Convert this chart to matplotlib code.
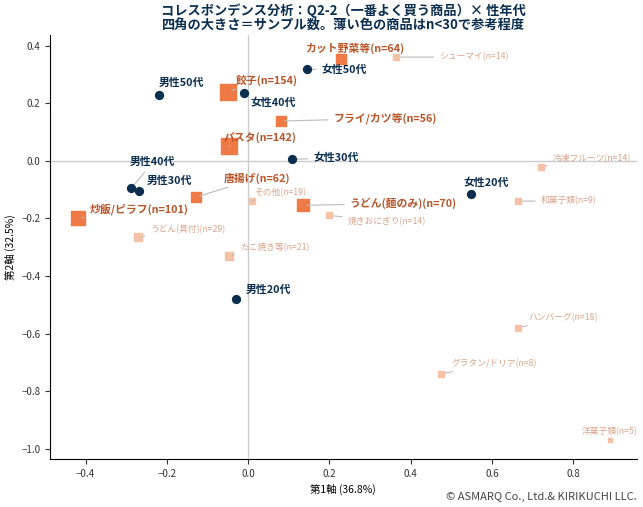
import matplotlib
matplotlib.use("Agg")
import matplotlib.pyplot as plt

plt.rcParams['font.family'] = ['Noto Sans CJK JP', 'DejaVu Sans']

seg_names = ["男性50代","女性50代","女性40代","女性30代","男性40代","男性30代","女性20代","男性20代"]
seg_x = [-0.22, 0.144, -0.01, 0.107, -0.287, -0.268, 0.548, -0.029]
seg_y = [0.23, 0.318, 0.235, 0.005, -0.095, -0.105, -0.117, -0.48]
seg_lx = [-0.22, 0.18, 0.005, 0.16, -0.29, -0.25, 0.53, -0.007]
seg_ly = [0.27, 0.315, 0.2, 0.01, -0.005, -0.07, -0.075, -0.45]

prod_names = ["カット野菜等","餃子","フライ/カツ等","パスタ","唐揚げ","うどん(麺のみ)","炒飯/ピラフ",
              "シューマイ","冷凍フルーツ","和菓子類","その他","焼きおにぎり","うどん(具付)","たこ焼き等",
              "ハンバーグ","グラタン/ドリア","洋菓子類"]
prod_n = [64,154,56,142,62,70,101,14,14,9,19,14,29,21,18,8,5]
prod_x = [0.229,-0.05,0.08,-0.047,-0.129,0.134,-0.419,0.365,0.722,0.665,0.01,0.2,-0.27,-0.048,0.665,0.475,0.89]
prod_y = [0.355,0.24,0.138,0.05,-0.127,-0.155,-0.2,0.36,-0.02,-0.14,-0.14,-0.19,-0.265,-0.33,-0.58,-0.74,-0.97]
prod_lx = [0.14,-0.03,0.21,-0.06,-0.06,0.25,-0.39,0.47,0.75,0.72,0.015,0.245,-0.24,-0.02,0.69,0.5,0.82]
prod_ly = [0.39,0.28,0.147,0.08,-0.06,-0.148,-0.17,0.36,0.007,-0.14,-0.11,-0.21,-0.24,-0.3,-0.545,-0.705,-0.94]

NAVY = "#0b2e4f"
fig, ax = plt.subplots(figsize=(6.43, 5.07), dpi=100)
fig.subplots_adjust(left=0.078, right=0.99, top=0.93, bottom=0.095)

ax.axhline(0, color="#cccccc", lw=1, zorder=0)
ax.axvline(0, color="#cccccc", lw=1, zorder=0)

for i, nm in enumerate(prod_names):
    n = prod_n[i]
    big = n >= 30
    mc = "#f07a45" if big else "#f5c2a8"
    tc = "#b8552a" if big else "#d9a58c"
    ax.scatter(prod_x[i], prod_y[i], marker="s", s=n*0.85+8, color=mc, zorder=3)
    ax.annotate(f"{nm}(n={n})", (prod_x[i], prod_y[i]), xytext=(prod_lx[i], prod_ly[i]),
                textcoords="data", fontsize=7.8 if big else 6.3, fontweight="bold" if big else "normal",
                color=tc, ha="left", va="center",
                arrowprops=dict(arrowstyle="-", color="#bbbbbb", lw=0.8, shrinkA=2, shrinkB=3))

for i, nm in enumerate(seg_names):
    ax.scatter(seg_x[i], seg_y[i], s=32, color=NAVY, zorder=4)
    ax.annotate(nm, (seg_x[i], seg_y[i]), xytext=(seg_lx[i], seg_ly[i]), textcoords="data",
                fontsize=7.8, fontweight="bold", color=NAVY, ha="left", va="center",
                arrowprops=dict(arrowstyle="-", color="#bbbbbb", lw=0.8, shrinkA=2, shrinkB=3))

ax.set_xlim(-0.487, 0.956)
ax.set_ylim(-1.035, 0.435)
ax.set_xticks([-0.4,-0.2,0.0,0.2,0.4,0.6,0.8])
ax.set_yticks([0.4,0.2,0.0,-0.2,-0.4,-0.6,-0.8,-1.0])
ax.tick_params(labelsize=7, colors="#333333")
for s in ["top","right"]:
    ax.spines[s].set_visible(False)
ax.set_xlabel("第1軸 (36.8%)", fontsize=7.5)
ax.set_ylabel("第2軸 (32.5%)", fontsize=7.5)
ax.set_title("コレスポンデンス分析：Q2-2（一番よく買う商品）× 性年代\n四角の大きさ＝サンプル数。薄い色の商品はn<30で参考程度",
             fontsize=9.5, fontweight="bold", color=NAVY, linespacing=1.1, pad=4)
fig.text(0.99, 0.01, "© ASMARQ Co., Ltd.& KIRIKUCHI LLC.", ha="right", va="bottom", fontsize=8, color="#444444")
fig.savefig("out.png", dpi=100)
